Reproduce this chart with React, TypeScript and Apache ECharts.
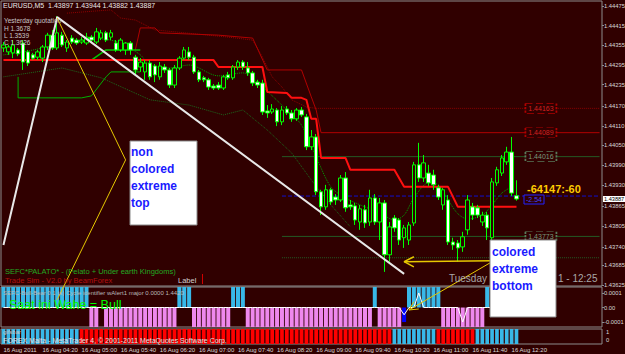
import React, { useEffect, useRef } from "react";
import * as echarts from "echarts";

const BG = "#300000";
const FONT = "Liberation Sans";

// ---- candles (EURUSD M5, 16 Aug 2011, from 03:40) ----
const OPEN = [
  1.44347, 1.44335, 1.44332, 1.44341, 1.44362, 1.44335, 1.44326, 1.44319, 1.44316, 1.44350,
  1.44386, 1.44347, 1.44386, 1.44347, 1.44377, 1.44371, 1.44365, 1.44362, 1.44380, 1.44365,
  1.44377, 1.44393, 1.44380, 1.44362, 1.44341, 1.44341, 1.44362, 1.44319, 1.44289, 1.44274,
  1.44301, 1.44292, 1.44259, 1.44289, 1.44280, 1.44234, 1.44286, 1.44316, 1.44335, 1.44319,
  1.44274, 1.44256, 1.44250, 1.44231, 1.44234, 1.44225, 1.44265, 1.44256, 1.44289, 1.44304,
  1.44286, 1.44271, 1.44243, 1.44240, 1.44155, 1.44152, 1.44158, 1.44122, 1.44161, 1.44149,
  1.44131, 1.44158, 1.44137, 1.44046, 1.44076, 1.43909, 1.43863, 1.43915, 1.43893, 1.43884,
  1.43951, 1.43869, 1.43866, 1.43817, 1.43854, 1.43817, 1.43890, 1.43817, 1.43875, 1.43717,
  1.43829, 1.43823, 1.43769, 1.43762, 1.43814, 1.43991, 1.43951, 1.43966, 1.43960, 1.43921,
  1.43869, 1.43884, 1.43756, 1.43753, 1.43741, 1.43793, 1.43863, 1.43860, 1.43817, 1.43838,
  1.43769, 1.43936, 1.43966, 1.44000, 1.44030, 1.43897,
];
const CLOSE = [
  1.44356, 1.44350, 1.44356, 1.44329, 1.44304, 1.44301, 1.44316, 1.44335, 1.44350, 1.44386,
  1.44347, 1.44393, 1.44356, 1.44365, 1.44365, 1.44362, 1.44371, 1.44380, 1.44371, 1.44396,
  1.44393, 1.44371, 1.44393, 1.44341, 1.44371, 1.44362, 1.44341, 1.44280, 1.44304, 1.44301,
  1.44259, 1.44265, 1.44292, 1.44280, 1.44234, 1.44286, 1.44316, 1.44341, 1.44319, 1.44274,
  1.44250, 1.44250, 1.44228, 1.44225, 1.44225, 1.44259, 1.44256, 1.44289, 1.44304, 1.44289,
  1.44271, 1.44240, 1.44234, 1.44152, 1.44149, 1.44161, 1.44122, 1.44158, 1.44149, 1.44131,
  1.44158, 1.44143, 1.44046, 1.44076, 1.43909, 1.43863, 1.43915, 1.43878, 1.43884, 1.43951,
  1.43860, 1.43863, 1.43823, 1.43857, 1.43814, 1.43890, 1.43817, 1.43875, 1.43717, 1.43802,
  1.43799, 1.43762, 1.43799, 1.43808, 1.43991, 1.43951, 1.43997, 1.43936, 1.43930, 1.43893,
  1.43915, 1.43756, 1.43747, 1.43738, 1.43772, 1.43884, 1.43838, 1.43838, 1.43838, 1.43799,
  1.43939, 1.43976, 1.44012, 1.44030, 1.43905, 1.43887,
];
const LOW = [
  1.44335, 1.44326, 1.44316, 1.44322, 1.44280, 1.44292, 1.44310, 1.44310, 1.44304, 1.44341,
  1.44341, 1.44341, 1.44350, 1.44335, 1.44359, 1.44356, 1.44359, 1.44356, 1.44365, 1.44359,
  1.44371, 1.44365, 1.44371, 1.44335, 1.44335, 1.44326, 1.44326, 1.44265, 1.44274, 1.44250,
  1.44250, 1.44243, 1.44250, 1.44271, 1.44225, 1.44225, 1.44280, 1.44310, 1.44310, 1.44268,
  1.44243, 1.44243, 1.44219, 1.44219, 1.44219, 1.44219, 1.44250, 1.44250, 1.44280, 1.44280,
  1.44262, 1.44231, 1.44225, 1.44143, 1.44134, 1.44146, 1.44109, 1.44112, 1.44143, 1.44122,
  1.44125, 1.44137, 1.44036, 1.44036, 1.43899, 1.43838, 1.43854, 1.43869, 1.43869, 1.43878,
  1.43848, 1.43854, 1.43808, 1.43793, 1.43799, 1.43805, 1.43808, 1.43762, 1.43665, 1.43696,
  1.43787, 1.43747, 1.43738, 1.43747, 1.43805, 1.43939, 1.43939, 1.43927, 1.43915, 1.43884,
  1.43854, 1.43747, 1.43732, 1.43696, 1.43726, 1.43778, 1.43823, 1.43829, 1.43805, 1.43762,
  1.43756, 1.43927, 1.43957, 1.43991, 1.43896, 1.43882,
];
const HIGH = [
  1.44365, 1.44356, 1.44371, 1.44347, 1.44371, 1.44341, 1.44332, 1.44341, 1.44356, 1.44393,
  1.44402, 1.44444, 1.44396, 1.44371, 1.44386, 1.44377, 1.44380, 1.44393, 1.44386, 1.44408,
  1.44402, 1.44399, 1.44402, 1.44371, 1.44377, 1.44365, 1.44368, 1.44326, 1.44316, 1.44310,
  1.44310, 1.44298, 1.44304, 1.44298, 1.44286, 1.44295, 1.44322, 1.44350, 1.44350, 1.44326,
  1.44280, 1.44262, 1.44256, 1.44237, 1.44243, 1.44265, 1.44274, 1.44295, 1.44310, 1.44310,
  1.44304, 1.44277, 1.44250, 1.44250, 1.44173, 1.44176, 1.44164, 1.44170, 1.44170, 1.44158,
  1.44164, 1.44167, 1.44146, 1.44097, 1.44085, 1.43915, 1.43930, 1.43921, 1.43902, 1.43960,
  1.43969, 1.43884, 1.43875, 1.43869, 1.43869, 1.43915, 1.43902, 1.43890, 1.43884, 1.43817,
  1.43838, 1.43829, 1.43808, 1.43817, 1.44000, 1.44058, 1.44021, 1.43991, 1.43976, 1.43930,
  1.43921, 1.43899, 1.43769, 1.43762, 1.43787, 1.43899, 1.43875, 1.43869, 1.43848, 1.43848,
  1.43951, 1.43985, 1.44021, 1.44046, 1.44076, 1.43944,
];

// ---- indicator lines on the price chart: [bar index, price] ----
const RED_BAND = [
  [0, 1.4431], [43, 1.4431], [44, 1.44289], [53, 1.44289], [54, 1.44213], [58, 1.4421],
  [59, 1.44195], [61, 1.44195], [62, 1.44189], [63, 1.44131], [64, 1.44131], [65, 1.44012],
  [70, 1.44012], [71, 1.43976], [80, 1.43976], [82, 1.43924], [91, 1.43924], [93, 1.43863],
  [105, 1.43863],
];
const UPPER_BAND = [
  [27, 1.44341], [28, 1.44408], [31, 1.44408], [32, 1.44393], [44, 1.44386], [51, 1.44377],
  [54, 1.4428], [61, 1.4428], [63, 1.44198], [64, 1.44158], [65, 1.44089], [122, 1.44089],
];
const UPPER_DOTTED = [
  [13, 1.44453], [22, 1.44463], [24, 1.44438], [27, 1.44432], [31, 1.44402], [46, 1.4438],
  [51, 1.44371], [53, 1.44319], [55, 1.44259], [57, 1.44228], [59, 1.44189], [62, 1.44167],
  [64, 1.44163],
];
const MA_MID = [
  [0, 1.44326], [4, 1.44335], [8, 1.44347], [12, 1.44362], [16, 1.44371], [20, 1.44374],
  [24, 1.44362], [28, 1.44326], [30, 1.44295], [34, 1.44286], [38, 1.44295], [44, 1.44262],
  [49, 1.44271], [53, 1.44228], [58, 1.44158], [61, 1.44112], [64, 1.44015], [67, 1.43924],
  [70, 1.4389], [73, 1.43869], [77, 1.43845], [80, 1.43823], [82, 1.43838], [84, 1.4389],
  [87, 1.43936], [89, 1.4393], [91, 1.43884], [93, 1.43842], [95, 1.43826], [98, 1.43838],
  [100, 1.43869], [102, 1.43905], [104, 1.43924],
];
const MA_LOW = [
  [0, 1.44259], [12, 1.44286], [20, 1.44256], [30, 1.44189], [38, 1.44173], [45, 1.44143],
  [49, 1.44158], [54, 1.44097], [59, 1.44027], [63, 1.43945], [67, 1.43869], [71, 1.43802],
];
const GREEN_STEP_1 = [
  [3, 1.44259], [3, 1.44195], [16, 1.44195], [18, 1.44201], [21, 1.44259], [22, 1.44274], [28, 1.44274],
];
const GREEN_STEP_2 = [[18, 1.4431], [21, 1.44341], [28, 1.44341]];

const TREND_WHITE = [[0, 1.43747], [11, 1.44441], [82, 1.43659]];
const ARROW_TOP = [[11, 1.44438], [25, 1.44006], [11, 1.4358]];
const ARROW_BOTTOM_H = [[100, 1.43699], [82, 1.43696]];
const ARROW_BOTTOM_H_HEAD = [[84, 1.43711], [82, 1.43696], [84, 1.4368]];
const ARROW_BOTTOM_D = [[100, 1.43696], [83, 1.43549]];
const ARROW_BOTTOM_D_HEAD = [[84, 1.43574], [83, 1.43549], [85, 1.43552]];

// horizontal levels
const LEVEL_RED_DOT = 1.44163;
const LEVEL_RED = 1.44089;
const LEVEL_GREEN_1 = 1.44016;
const LEVEL_BLUE = 1.43896;
const LEVEL_GREEN_2 = 1.43773;
const LEVEL_GREEN_3 = 1.43708;
const BID = 1.43887;

const PRICE_TICKS = [
  1.44475, 1.44415, 1.44355, 1.44295, 1.44235, 1.4417, 1.4411, 1.4405, 1.4399, 1.4393,
  1.43865, 1.43805, 1.4374, 1.43685, 1.43625,
];

// ---- sub-window 1: 1 = cyan (up), -1 = violet (down), -2 = blue, 0 = none ----
const CYCLE_STATE = [
  1, 1, 1, 1, 1, 1, 1, 1, 1, 1, 1, 1, 1, 1, 1, 1, 1, 1, -1, -1,
  0, -1, -1, -1, -1, -1, -1, -1, -1, -1, -1, -1, -1, -1, -1, -1, 1, 1, 1, -1,
  -1, -1, -1, -1, -1, -1, -1, 1, 1, 1, -1, -1, -1, -1, -1, -1, -1, -1, -1, -1,
  -1, -1, -1, -1, -1, -1, -1, -1, -1, -1, -1, -1, -1, -1, -1, -1, 1, -1, -1, -1,
  -1, -1, -2, 1, 1, 1, 1, 1, 1, 1, -1, -1, -1, -1, -1, -1, -1, -1, -1, 1,
  1, 1, 1, 1, 1, 1,
];
const CYCLE_LINE = [
  0, 0, 0, 0, 0, 0, 0, 0, 0, 0, 0, 0, 0, 0, 0, 0, 0, 0, 0, 0,
  0, 0, 0, 0, 0, 0, 0, 0, 0, 0, 0, 0, 0, 0, 0, 0, 0, 0, 0, 0,
  0, 0, 0, 0, 0, 0, 0, 0, 0, 0, 0, 0, 0, 0, 0, 0, 0, 0, 0, 0,
  0, 0, 0, 0, 0, 0, 0, 0, 0, 0, 0, 0, 0, 0, 0, 0, 0, 0, 0, 0,
  0, 0, -0.00005, 0, 0, 0.0001, 0, 0, 0, 0, 0, 0, 0, 0, -0.0001, 0, 0, 0, 0, 0,
  0, 0, 0, 0, 0, 0,
];
// ---- sub-window 2: 1 = cyan (bull), -1 = red (bear) ----
const TREND_STATE = [
  1, 1, 1, 1, 1, 1, 1, 1, 1, 1, 1, 1, 1, 1, 1, 1, -1, -1, -1, -1,
  -1, -1, -1, -1, -1, -1, -1, -1, -1, -1, -1, -1, -1, -1, -1, -1, -1, -1, -1, -1,
  -1, -1, -1, -1, -1, -1, -1, -1, -1, -1, -1, -1, -1, -1, -1, -1, -1, -1, -1, -1,
  -1, -1, -1, -1, -1, -1, -1, -1, -1, -1, -1, -1, -1, -1, -1, -1, -1, -1, -1, -1,
  1, 1, 1, 1, 1, 1, 1, 1, 1, -1, -1, -1, -1, -1, -1, -1, -1, 1, 1, 1,
  1, 1, 1, 1, 1, 1,
];

const N_SLOTS = 123;
const LAST_LABEL = 104;
const CATS: string[] = [];
for (let i = 0; i < N_SLOTS; i++) {
  const m = 220 + 5 * i;
  const hh = String(Math.floor(m / 60)).padStart(2, "0");
  const mm = String(m % 60).padStart(2, "0");
  CATS.push(i === 0 ? "16 Aug 2011" : `16 Aug ${hh}:${mm}`);
}

const CYAN = "#38b8e8";
const VIOLET = "#ee88ee";
const RED = "#ff0000";
const AXIS_TXT = "#d8d8d8";
const BORDER = "#8c8c8c";
const AXIS_FS = 5.8;

function lineSeries(data: number[][], color: string, width: number, type: any = "solid", extra: any = {}) {
  return {
    type: "line",
    xAxisIndex: 0,
    yAxisIndex: 0,
    data,
    symbol: "none",
    silent: true,
    lineStyle: { color, width, type },
    z: 3,
    ...extra,
  };
}

function levelSeries(price: number, from: number, color: string, type: any, boxText: string | null, boxBorder: string, boxColor: string) {
  const s: any = lineSeries([[from, price], [N_SLOTS - 1, price]], color, 1, type);
  if (boxText) {
    s.markPoint = {
      silent: true,
      symbol: "rect",
      symbolSize: [31, 10],
      itemStyle: { color: BG, borderColor: boxBorder, borderWidth: 1, borderType: "dashed" },
      label: { show: true, position: "inside", formatter: boxText, color: boxColor, fontSize: 7, fontFamily: FONT },
      data: [{ coord: [110, price] }],
    };
  }
  return s;
}

export default function App() {
  const ref = useRef<HTMLDivElement>(null);
  useEffect(() => {
    if (!ref.current) return;
    const chart = echarts.init(ref.current, undefined, { renderer: "svg" });
    const candles = OPEN.map((o, i) => [o, CLOSE[i], LOW[i], HIGH[i]]);
    const p1Top = 0.000141;
    const p1Bot = -0.000134;
    const cycleBars = CYCLE_STATE.map((s) => {
      if (s === 1) return { value: p1Top, itemStyle: { color: CYAN } };
      if (s === -1) return { value: p1Bot, itemStyle: { color: VIOLET } };
      if (s === -2) return { value: -0.0001, itemStyle: { color: "#0000ff" } };
      return { value: 0, itemStyle: { color: BG } };
    });
    const trendUp = TREND_STATE.map((s) => ({ value: 1.375, itemStyle: { color: s === 1 ? CYAN : RED } }));
    const trendDn = TREND_STATE.map((s) => ({ value: -0.5, itemStyle: { color: s === 1 ? CYAN : RED } }));
    const showLbl = (i: number) => i % 8 === 0 && i <= LAST_LABEL;

    const xBase = (gi: number, show: boolean) => ({
      type: "category",
      gridIndex: gi,
      data: CATS,
      boundaryGap: true,
      axisLine: { show: false },
      axisTick: show
        ? { show: true, alignWithLabel: true, interval: showLbl, length: 2, lineStyle: { color: BORDER } }
        : { show: false },
      axisLabel: show
        ? {
            show: true,
            interval: showLbl,
            align: "left",
            margin: 3,
            fontSize: 6,
            fontFamily: FONT,
            color: AXIS_TXT,
          }
        : { show: false },
      splitLine: { show: false },
    });

    const txt = (text: string, x: number, y: number, fill: string, font: string, z = 60, extra: any = {}) => ({
      type: "text",
      x,
      y,
      z,
      silent: true,
      style: { text, fill, font, verticalAlign: "middle", ...extra },
    });

    const gridBase = {
      left: 1,
      width: 601,
      show: true,
      borderColor: BORDER,
      borderWidth: 1,
      backgroundColor: "transparent",
      containLabel: false,
      outerBoundsMode: "none",
    };

    chart.setOption({
      animation: false,
      backgroundColor: BG,
      grid: [
        { ...gridBase, top: 1, height: 285 },
        { ...gridBase, top: 287, height: 40 },
        { ...gridBase, top: 329, height: 15 },
      ],
      xAxis: [xBase(0, false), xBase(1, false), xBase(2, true)],
      yAxis: [
        {
          type: "value",
          gridIndex: 0,
          position: "right",
          min: 1.43622,
          max: 1.4449,
          splitLine: { show: false },
          axisLine: { show: false },
          axisTick: { show: true, customValues: PRICE_TICKS, length: 2, lineStyle: { color: BORDER } },
          axisLabel: {
            show: true,
            customValues: PRICE_TICKS,
            formatter: (v: number) => v.toFixed(5),
            margin: 2,
            fontSize: AXIS_FS,
            lineHeight: 6,
            fontFamily: FONT,
            color: AXIS_TXT,
          },
        },
        {
          type: "value",
          gridIndex: 1,
          position: "right",
          min: p1Bot,
          max: p1Top,
          splitLine: { show: false },
          axisLine: { show: false },
          axisTick: { show: true, customValues: [0.0001, 0, -0.0001], length: 2, lineStyle: { color: BORDER } },
          axisLabel: {
            show: true,
            customValues: [0.0001, 0, -0.0001],
            formatter: (v: number) => (v === 0 ? "0.00" : v > 0 ? "0.0001" : "-0.0001"),
            margin: 2,
            fontSize: AXIS_FS,
            lineHeight: 6,
            fontFamily: FONT,
            color: AXIS_TXT,
          },
        },
        {
          type: "value",
          gridIndex: 2,
          position: "right",
          min: -0.5,
          max: 1.375,
          splitLine: { show: false },
          axisLine: { show: false },
          axisTick: { show: false },
          axisLabel: {
            show: true,
            customValues: [1, 0],
            formatter: (v: number) => String(v),
            margin: 4,
            fontSize: AXIS_FS,
            lineHeight: 6,
            fontFamily: FONT,
            color: AXIS_TXT,
          },
        },
        {
          // bid price marker on the price scale
          type: "value",
          gridIndex: 0,
          position: "right",
          min: 1.43622,
          max: 1.4449,
          splitLine: { show: false },
          axisLine: { show: false },
          axisTick: { show: false },
          axisLabel: {
            show: true,
            customValues: [BID],
            formatter: (v: number) => v.toFixed(5),
            margin: 1,
            fontSize: 5.6,
            lineHeight: 6,
            fontFamily: FONT,
            color: "#000000",
            backgroundColor: "#ffffff",
            padding: [0, 1, 0, 1],
          },
        },
      ],
      series: [
        lineSeries(MA_LOW, "#1c6a1c", 1, "dotted"),
        lineSeries(UPPER_DOTTED, "#900000", 1, "dotted"),
        lineSeries(UPPER_BAND, "#b00000", 1, "solid"),
        levelSeries(LEVEL_RED_DOT, 64, "#8a0000", "dotted", "1.44163", "#b00000", "#d02020"),
        levelSeries(LEVEL_RED, 57, "rgba(0,0,0,0)", "solid", "1.44089", "#b00000", "#d02020"),
        levelSeries(LEVEL_GREEN_1, 57, "#245a24", "solid", "1.44016", "#5a7a5a", "#7a9a7a"),
        levelSeries(LEVEL_BLUE, 57, "#1010d0", "dashed", null, "", ""),
        levelSeries(LEVEL_GREEN_2, 57, "#245a24", "solid", "1.43773", "#5a7a5a", "#7a9a7a"),
        levelSeries(LEVEL_GREEN_3, 57, "#245a24", "dotted", null, "", ""),
        lineSeries(GREEN_STEP_1, "#00b000", 1),
        lineSeries(GREEN_STEP_2, "#00c800", 1.5),
        lineSeries(MA_MID, "#00a000", 1, "dotted", { smooth: 0.3 }),
        lineSeries(RED_BAND, "#ff1010", 2, "solid", { z: 4 }),
        {
          type: "candlestick",
          xAxisIndex: 0,
          yAxisIndex: 0,
          data: candles,
          barWidth: 4,
          silent: true,
          z: 5,
          itemStyle: { color: BG, color0: "#ffffff", borderColor: "#00ff00", borderColor0: "#00ff00", borderWidth: 1 },
        },
        lineSeries(TREND_WHITE, "#e8e8e8", 2, "solid", { z: 6 }),
        lineSeries(ARROW_TOP, "#e6c800", 1, "solid", { z: 7, clip: false }),
        lineSeries(ARROW_BOTTOM_H, "#e6c800", 1.5, "solid", { z: 7, clip: false }),
        lineSeries(ARROW_BOTTOM_H_HEAD, "#e6c800", 1.5, "solid", { z: 7, clip: false }),
        lineSeries(ARROW_BOTTOM_D, "#e6c800", 1, "solid", { z: 7, clip: false }),
        lineSeries(ARROW_BOTTOM_D_HEAD, "#e6c800", 1, "solid", { z: 7, clip: false }),
        {
          type: "bar",
          xAxisIndex: 1,
          yAxisIndex: 1,
          data: cycleBars,
          barCategoryGap: "18%",
          silent: true,
          z: 2,
        },
        {
          type: "line",
          xAxisIndex: 1,
          yAxisIndex: 1,
          data: CYCLE_LINE,
          symbol: "none",
          silent: true,
          lineStyle: { color: "#ffffff", width: 1 },
          z: 3,
        },
        {
          type: "bar",
          xAxisIndex: 2,
          yAxisIndex: 2,
          stack: "t",
          data: trendUp,
          barCategoryGap: "25%",
          silent: true,
        },
        {
          type: "bar",
          xAxisIndex: 2,
          yAxisIndex: 2,
          stack: "t",
          data: trendDn,
          barCategoryGap: "25%",
          silent: true,
        },
      ],
      graphic: [
        txt("EURUSD,M5  1.43897 1.43944 1.43882 1.43887", 3, 5, "#e8e8e8", `7px ${FONT}`),
        txt("Yesterday quotation", 4, 20, "#c8c8c8", `6.5px ${FONT}`),
        txt("H 1.3678", 4, 28, "#c8c8c8", `6.5px ${FONT}`),
        txt("L 1.3539", 4, 35, "#c8c8c8", `6.5px ${FONT}`),
        txt("C 1.3626", 4, 42, "#c8c8c8", `6.5px ${FONT}`),
        txt("SEFC*PALATO* - (Pelato + Under earth Kingdoms)", 5, 271.5, "#22aa22", `7.5px ${FONT}`),
        txt("Trade Sim - V2.0 by BeamForex", 5, 280.5, "#b01010", `7.5px ${FONT}`),
        txt("Label", 178, 280.5, "#d0d0d0", `7.5px ${FONT}`),
        { type: "rect", z: 60, silent: true, shape: { x: 202, y: 274, width: 1, height: 10 }, style: { fill: "#d00000" } },
        txt("Tuesday", 449, 278, "#a8a8a8", `10px ${FONT}`, 55),
        txt("1 - 12:25", 558, 278, "#a8a8a8", `10px ${FONT}`, 55),
        txt("-64147:-60", 527, 189, "#ffcc00", `bold 11px ${FONT}`),
        { type: "rect", z: 60, silent: true, shape: { x: 524, y: 195, width: 20, height: 9 }, style: { fill: BG, stroke: "#2020ff", lineWidth: 1 } },
        txt("-2.54", 526, 199.5, "#4040ff", `7px ${FONT}`, 61),
        txt("SEFC-Bull-Bear 0.1 (s) Cycle identifier wAlert1 major 0.0000 1.4420", 3, 293, "#b8b8b8", `6px ${FONT}`),
        txt("Saat ini Wahe = Bull", 9, 305, "#00ff00", `12.5px ${FONT}`),
        txt("gifsbar", 3, 332, "#c8c8c8", `6px ${FONT}`),
        txt("FOREX Malta - MetaTrader 4, © 2001-2011 MetaQuotes Software Corp.", 3, 340, "#e0e0e0", `7px ${FONT}`),
        // annotation boxes
        { type: "rect", z: 100, silent: true, shape: { x: 130, y: 141, width: 67, height: 84 }, style: { fill: "#ffffff", stroke: "#8a8a8a", lineWidth: 1 } },
        txt("non", 131, 152, "#1a1aff", `bold 12px ${FONT}`, 101),
        txt("colored", 131, 169, "#1a1aff", `bold 12px ${FONT}`, 101),
        txt("extreme", 131, 186, "#1a1aff", `bold 12px ${FONT}`, 101),
        txt("top", 131, 203, "#1a1aff", `bold 12px ${FONT}`, 101),
        { type: "rect", z: 100, silent: true, shape: { x: 490, y: 240, width: 66, height: 77 }, style: { fill: "#ffffff", stroke: "#8a8a8a", lineWidth: 1 } },
        txt("colored", 492, 252, "#1a1aff", `bold 12px ${FONT}`, 101),
        txt("extreme", 492, 269, "#1a1aff", `bold 12px ${FONT}`, 101),
        txt("bottom", 492, 286, "#1a1aff", `bold 12px ${FONT}`, 101),
      ],
    });
    return () => chart.dispose();
  }, []);
  return <div ref={ref} style={{ width: 625, height: 354, position: "absolute", left: 0, top: 0 }} />;
}
